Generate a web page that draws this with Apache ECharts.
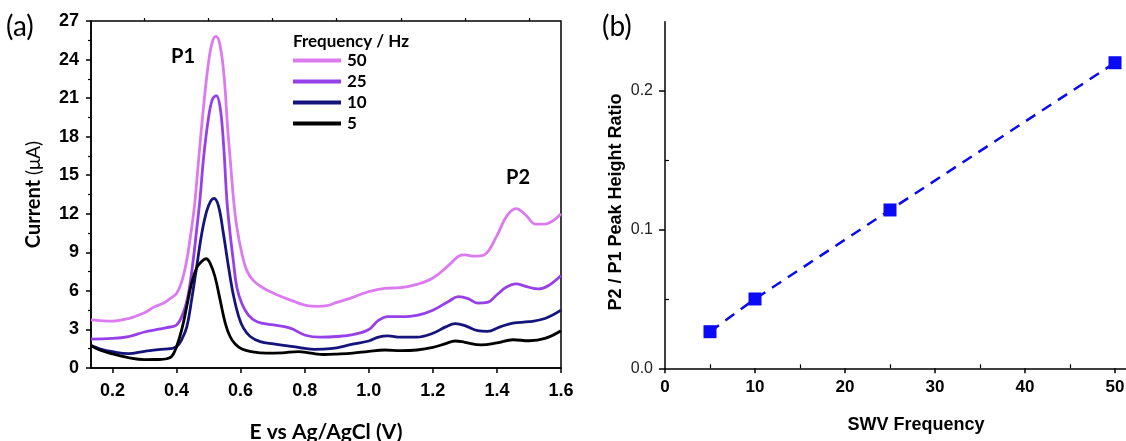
<!DOCTYPE html>
<html>
<head>
<meta charset="utf-8">
<script src="https://cdn.jsdelivr.net/npm/echarts@6/dist/echarts.min.js"></script>
<style>
html,body{margin:0;padding:0;background:#fff;}
#c{width:1126px;height:441px;}
</style>
</head>
<body>
<div id="c"></div>
<script>
// ---- Panel (a): SWV curves ----
const freqLabels = ['50', '25', '10', '5'];
const xTicksA = [0.2, 0.4, 0.6, 0.8, 1.0, 1.2, 1.4, 1.6];
const xMinorA = [0.3, 0.5, 0.7, 0.9, 1.1, 1.3, 1.5];

const e50 = [0.133,0.2,0.25,0.3,0.33,0.36,0.38,0.4,0.416,0.432,0.442,0.452,0.458,0.47,0.485,0.5,0.512,0.523,0.535,0.548,0.56,0.57,0.578,0.588,0.604,0.619,0.64,0.672,0.713,0.765,0.807,0.84,0.87,0.9,0.95,1.0,1.05,1.1,1.15,1.2,1.25,1.28,1.3,1.33,1.36,1.4,1.43,1.46,1.49,1.52,1.55,1.6];
const i50 = [3.75,3.65,3.85,4.3,4.75,5.05,5.4,5.8,6.7,8.4,10.0,11.8,13.1,16.5,20.5,23.8,25.4,25.8,25.2,22.8,18.5,15.5,13.1,11.0,8.9,7.6,6.8,6.2,5.7,5.2,4.85,4.8,4.85,5.1,5.5,5.95,6.2,6.25,6.5,7.0,8.0,8.7,8.8,8.7,8.8,10.3,11.8,12.4,11.9,11.2,11.2,12.0];

const e25 = [0.133,0.2,0.25,0.3,0.34,0.37,0.4,0.421,0.437,0.452,0.463,0.473,0.485,0.5,0.512,0.524,0.536,0.547,0.557,0.567,0.578,0.588,0.604,0.625,0.651,0.703,0.755,0.802,0.85,0.9,0.95,1.0,1.03,1.06,1.1,1.15,1.2,1.25,1.28,1.31,1.34,1.37,1.4,1.43,1.46,1.49,1.53,1.56,1.6];
const i25 = [2.25,2.3,2.45,2.8,3.0,3.15,3.35,4.3,5.8,8.4,10.8,13.1,16.5,19.5,20.9,21.2,20.3,17.3,13.1,10.5,8.2,6.3,5.0,4.1,3.6,3.35,3.1,2.55,2.4,2.45,2.6,3.0,3.7,4.0,4.0,4.1,4.5,5.2,5.55,5.4,5.05,5.1,5.7,6.3,6.55,6.35,6.15,6.4,7.2];

const e10 = [0.133,0.16,0.2,0.25,0.3,0.35,0.38,0.4,0.416,0.432,0.447,0.463,0.479,0.494,0.507,0.517,0.531,0.546,0.562,0.578,0.594,0.609,0.63,0.661,0.703,0.765,0.83,0.88,0.95,1.0,1.03,1.06,1.1,1.15,1.2,1.24,1.27,1.3,1.34,1.37,1.41,1.45,1.5,1.55,1.6];
const i10 = [1.75,1.5,1.27,1.12,1.3,1.45,1.5,1.66,2.2,3.2,5.3,7.9,10.5,12.2,13.0,13.2,12.6,10.5,7.9,5.6,4.0,3.1,2.45,2.05,1.87,1.66,1.45,1.5,1.85,2.1,2.4,2.5,2.4,2.4,2.7,3.2,3.45,3.3,2.9,2.85,3.2,3.5,3.6,3.85,4.5];

const e5 = [0.133,0.16,0.2,0.25,0.3,0.34,0.37,0.385,0.4,0.416,0.432,0.447,0.463,0.479,0.492,0.505,0.52,0.536,0.552,0.567,0.583,0.604,0.635,0.68,0.73,0.78,0.82,0.86,0.9,0.95,1.0,1.05,1.1,1.15,1.2,1.24,1.27,1.3,1.35,1.4,1.45,1.5,1.55,1.6];
const i5 = [1.75,1.4,1.1,0.8,0.65,0.66,0.72,0.9,1.66,2.96,4.8,6.6,7.8,8.3,8.5,8.15,7.1,5.3,3.5,2.45,1.87,1.48,1.27,1.15,1.18,1.28,1.15,1.05,1.08,1.15,1.3,1.4,1.35,1.4,1.6,1.9,2.1,2.0,1.8,1.95,2.2,2.12,2.3,2.9];

// ---- Panel (b): peak height ratio ----
const swvFreq = [5, 10, 25, 50];
const peakRatio = [0.0264, 0.050, 0.1142, 0.2204];
const xTicksB = [0, 10, 20, 30, 40, 50];
const xMinorB = [5, 15, 25, 35, 45];
const yTicksB = [0, 0.1, 0.2];
const yMinorB = [0.05, 0.15];

const zip = (a, b) => a.map((v, i) => [v, b[i]]);
const colors = {'50': '#dc7bf0', '25': '#9640e8', '10': '#14147c', '5': '#000000'};
const curves = {'50': [e50, i50], '25': [e25, i25], '10': [e10, i10], '5': [e5, i5]};

const chart = echarts.init(document.getElementById('c'), null, {renderer: 'canvas'});
const arialB = {fontFamily: 'Liberation Sans, Arial, sans-serif', fontWeight: 'bold', color: '#000'};

const option = {
  animation: false,
  backgroundColor: '#fff',
  title: [
    {text: '(a)', left: 6, top: 13, padding: 0, textStyle: {fontFamily: 'Lato', fontWeight: 'normal', fontSize: 28, color: '#000'}},
    {text: '(b)', left: 602, top: 13, padding: 0, textStyle: {fontFamily: 'Lato', fontWeight: 'normal', fontSize: 28, color: '#000'}},
    {text: 'P1', left: 171, top: 47, padding: 0, textStyle: {fontFamily: 'Lato', fontWeight: 'bold', fontSize: 20, color: '#000'}},
    {text: 'P2', left: 506, top: 168, padding: 0, textStyle: {fontFamily: 'Lato', fontWeight: 'bold', fontSize: 20, color: '#000'}},
    {text: 'Frequency / Hz', left: 293, top: 33, padding: 0, textStyle: {fontFamily: 'Lato', fontWeight: 'bold', fontSize: 17, color: '#000'}}
  ],
  legend: {
    data: freqLabels,
    orient: 'vertical',
    left: 293, top: 52,
    padding: 0,
    icon: 'rect',
    itemWidth: 48, itemHeight: 4,
    itemGap: 4,
    textStyle: {fontFamily: 'Lato', fontWeight: 'bold', fontSize: 17, lineHeight: 16, color: '#000', padding: [0, 0, 0, 1]}
  },
  grid: [
    {left: 91, right: 565, top: 21, bottom: 73, outerBoundsMode: 'none', containLabel: false, show: true, borderColor: '#000', borderWidth: 1.5, backgroundColor: 'transparent'},
    {left: 665, right: 0, top: 21.7, bottom: 72.7, outerBoundsMode: 'none', containLabel: false}
  ],
  xAxis: [
    {
      gridIndex: 0, type: 'value', min: 0.133, max: 1.6,
      name: 'E vs Ag/AgCl (V)', nameLocation: 'middle', nameGap: 54,
      nameTextStyle: {fontFamily: 'Lato', fontWeight: 'bold', fontSize: 21, color: '#000'},
      axisLine: {lineStyle: {color: '#000', width: 1.5}},
      axisTick: {customValues: xTicksA, length: 5, lineStyle: {color: '#000', width: 1.5}},
      axisLabel: Object.assign({customValues: xTicksA, formatter: v => v.toFixed(1), fontSize: 18, margin: 14}, arialB),
      splitLine: {show: false}
    },
    {
      gridIndex: 0, type: 'value', min: 0.133, max: 1.6,
      axisLine: {show: false},
      axisTick: {customValues: xMinorA, length: 3, lineStyle: {color: '#000', width: 1.2}},
      axisLabel: {show: false},
      splitLine: {show: false}
    },
    {
      gridIndex: 1, type: 'value', min: 0, max: 51.22,
      name: 'SWV Frequency', nameLocation: 'middle', nameGap: 48,
      nameTextStyle: {fontFamily: 'Liberation Sans, Arial, sans-serif', fontWeight: 'bold', fontSize: 18, color: '#000', padding: [0, 0, 0, 41]},
      axisLine: {lineStyle: {color: '#000', width: 1.5}},
      axisTick: {customValues: xTicksB, length: 5, lineStyle: {color: '#000', width: 1.5}},
      axisLabel: Object.assign({customValues: xTicksB, fontSize: 17, margin: 11}, arialB),
      splitLine: {show: false}
    },
    {
      gridIndex: 1, type: 'value', min: 0, max: 51.22,
      axisLine: {show: false},
      axisTick: {customValues: xMinorB, length: 4, lineStyle: {color: '#000', width: 1.2}},
      axisLabel: {show: false},
      splitLine: {show: false}
    }
  ],
  yAxis: [
    {
      gridIndex: 0, type: 'value', min: 0, max: 27, interval: 3,
      name: 'Current {u|(μA)}', nameLocation: 'middle', nameGap: 47,
      nameTextStyle: {fontFamily: 'Lato', fontWeight: 'bold', fontSize: 20, color: '#000',
        rich: {u: {fontFamily: 'Lato', fontWeight: 'normal', fontSize: 19, color: '#000'}}},
      axisLine: {lineStyle: {color: '#000', width: 1.5}},
      axisTick: {length: 5, lineStyle: {color: '#000', width: 1.5}},
      minorTick: {show: true, splitNumber: 2, length: 3, lineStyle: {color: '#000', width: 1.2}},
      axisLabel: Object.assign({fontSize: 18, margin: 12}, arialB),
      splitLine: {show: false}, minorSplitLine: {show: false}
    },
    {
      gridIndex: 1, type: 'value', min: 0, max: 0.25,
      name: 'P2 / P1 Peak Height Ratio', nameLocation: 'middle', nameGap: 40,
      nameTextStyle: {fontFamily: 'Liberation Sans, Arial, sans-serif', fontWeight: 'bold', fontSize: 18, color: '#000', padding: [0, 14, 0, 0]},
      axisLine: {lineStyle: {color: '#000', width: 1.5}},
      axisTick: {customValues: yTicksB, length: 6, lineStyle: {color: '#000', width: 1.5}},
      axisLabel: {customValues: yTicksB, formatter: v => v.toFixed(1), fontFamily: 'Liberation Sans, Arial, sans-serif', fontSize: 16, color: '#222', margin: 12},
      splitLine: {show: false}
    },
    {
      gridIndex: 1, type: 'value', min: 0, max: 0.25,
      axisLine: {show: false},
      axisTick: {customValues: yMinorB, length: 4, lineStyle: {color: '#000', width: 1.2}},
      axisLabel: {show: false},
      splitLine: {show: false}
    }
  ],
  series: freqLabels.map(f => ({
    name: f, type: 'line', xAxisIndex: 0, yAxisIndex: 0,
    data: zip(curves[f][0], curves[f][1]),
    smooth: 0.4, symbol: 'none',
    lineStyle: {color: colors[f], width: 2.8},
    itemStyle: {color: colors[f]}
  })).concat([{
    name: 'ratio', type: 'line', xAxisIndex: 2, yAxisIndex: 1,
    data: zip(swvFreq, peakRatio),
    symbol: 'rect', symbolSize: 13,
    lineStyle: {color: '#0a0af0', width: 2.5, type: [11, 8]},
    itemStyle: {color: '#0a0af5'}
  }])
};
chart.setOption(option);
</script>
</body>
</html>
